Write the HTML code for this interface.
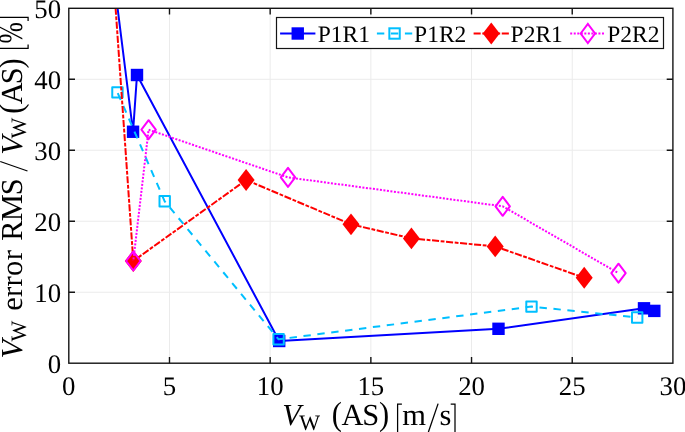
<!DOCTYPE html><html><head><meta charset="utf-8"><style>html,body{margin:0;padding:0;background:#fff;}svg{display:block;will-change:transform;}text{font-family:"Liberation Serif",serif;text-rendering:geometricPrecision;}</style></head><body>
<svg width="685" height="432" viewBox="0 0 685 432">
<rect width="685" height="432" fill="#fff"/>
<defs><clipPath id="c"><rect x="68.8" y="8.3" width="604.1" height="354.9"/></clipPath></defs>
<path d="M169.49 8.3V363.2 M270.17 8.3V363.2 M370.86 8.3V363.2 M471.54 8.3V363.2 M572.23 8.3V363.2 M68.8 292.22H672.9 M68.8 221.24H672.9 M68.8 150.26H672.9 M68.8 79.28H672.9" stroke="#ebebeb" stroke-width="1" fill="none"/>
<g clip-path="url(#c)" stroke-linejoin="round">
<polyline points="112.81,-30.00 133.05,131.75 137.00,75.00 279.20,341.00 498.50,328.80 644.00,308.30 654.30,310.90" fill="none" stroke="#0000ff" stroke-width="2"/>
<rect x="126.85" y="125.55" width="12.4" height="12.4" fill="#0000ff"/>
<rect x="130.80" y="68.80" width="12.4" height="12.4" fill="#0000ff"/>
<rect x="273.00" y="334.80" width="12.4" height="12.4" fill="#0000ff"/>
<rect x="492.30" y="322.60" width="12.4" height="12.4" fill="#0000ff"/>
<rect x="637.80" y="302.10" width="12.4" height="12.4" fill="#0000ff"/>
<rect x="648.10" y="304.70" width="12.4" height="12.4" fill="#0000ff"/>
<polyline points="117.45,92.35 164.70,201.30 278.60,339.30 531.50,306.60 637.20,317.50" fill="none" stroke="#00bfff" stroke-width="2" stroke-dasharray="7.4 6.6" stroke-dashoffset="13.26"/>
<rect x="112.25" y="87.15" width="10.4" height="10.4" fill="none" stroke="#00bfff" stroke-width="2"/>
<rect x="159.50" y="196.10" width="10.4" height="10.4" fill="none" stroke="#00bfff" stroke-width="2"/>
<rect x="273.40" y="334.10" width="10.4" height="10.4" fill="none" stroke="#00bfff" stroke-width="2"/>
<rect x="526.30" y="301.40" width="10.4" height="10.4" fill="none" stroke="#00bfff" stroke-width="2"/>
<rect x="632.00" y="312.30" width="10.4" height="10.4" fill="none" stroke="#00bfff" stroke-width="2"/>
<polyline points="112.92,-30.00 133.30,261.00" fill="none" stroke="#ff0000" stroke-width="2" stroke-dasharray="7.1 1.6 3.8 1.58" stroke-dashoffset="4.50"/>
<polyline points="133.30,261.00 246.10,180.00 351.00,224.30 411.40,238.40 495.20,246.40 584.20,277.75" fill="none" stroke="#ff0000" stroke-width="2" stroke-dasharray="7.1 1.6 3.8 1.58" stroke-dashoffset="2.45"/>
<polygon points="124.80,261.00 133.30,250.10 141.80,261.00 133.30,271.90" fill="#ff0000"/>
<polygon points="237.60,180.00 246.10,169.10 254.60,180.00 246.10,190.90" fill="#ff0000"/>
<polygon points="342.50,224.30 351.00,213.40 359.50,224.30 351.00,235.20" fill="#ff0000"/>
<polygon points="402.90,238.40 411.40,227.50 419.90,238.40 411.40,249.30" fill="#ff0000"/>
<polygon points="486.70,246.40 495.20,235.50 503.70,246.40 495.20,257.30" fill="#ff0000"/>
<polygon points="575.70,277.75 584.20,266.85 592.70,277.75 584.20,288.65" fill="#ff0000"/>
<polyline points="133.30,261.00 148.60,129.70 288.00,177.40 502.70,206.30 618.50,273.20" fill="none" stroke="#ff00ff" stroke-width="2" stroke-dasharray="2 1.53" stroke-dashoffset="1.93"/>
<polygon points="126.10,261.00 133.30,251.50 140.50,261.00 133.30,270.50" fill="none" stroke="#ff00ff" stroke-width="2" stroke-miterlimit="10"/>
<polygon points="141.40,129.70 148.60,120.20 155.80,129.70 148.60,139.20" fill="none" stroke="#ff00ff" stroke-width="2" stroke-miterlimit="10"/>
<polygon points="280.80,177.40 288.00,167.90 295.20,177.40 288.00,186.90" fill="none" stroke="#ff00ff" stroke-width="2" stroke-miterlimit="10"/>
<polygon points="495.50,206.30 502.70,196.80 509.90,206.30 502.70,215.80" fill="none" stroke="#ff00ff" stroke-width="2" stroke-miterlimit="10"/>
<polygon points="611.30,273.20 618.50,263.70 625.70,273.20 618.50,282.70" fill="none" stroke="#ff00ff" stroke-width="2" stroke-miterlimit="10"/>
</g>
<path d="M169.49 363.2v-6.2M169.49 8.3v6.2 M270.17 363.2v-6.2M270.17 8.3v6.2 M370.86 363.2v-6.2M370.86 8.3v6.2 M471.54 363.2v-6.2M471.54 8.3v6.2 M572.23 363.2v-6.2M572.23 8.3v6.2 M68.8 292.22h6.2M672.9 292.22h-6.2 M68.8 221.24h6.2M672.9 221.24h-6.2 M68.8 150.26h6.2M672.9 150.26h-6.2 M68.8 79.28h6.2M672.9 79.28h-6.2" stroke="#141414" stroke-width="1.4" fill="none"/>
<rect x="68.8" y="8.3" width="604.1" height="354.9" fill="none" stroke="#141414" stroke-width="1.4"/>
<text x="61.1" y="373.10" font-size="26.8" text-anchor="end">0</text>
<text x="61.1" y="302.12" font-size="26.8" text-anchor="end">10</text>
<text x="61.1" y="231.14" font-size="26.8" text-anchor="end">20</text>
<text x="61.1" y="160.16" font-size="26.8" text-anchor="end">30</text>
<text x="61.1" y="89.18" font-size="26.8" text-anchor="end">40</text>
<text x="61.1" y="18.20" font-size="26.8" text-anchor="end">50</text>
<text x="68.80" y="395.4" font-size="26.8" text-anchor="middle">0</text>
<text x="169.49" y="395.4" font-size="26.8" text-anchor="middle">5</text>
<text x="270.17" y="395.4" font-size="26.8" text-anchor="middle">10</text>
<text x="370.86" y="395.4" font-size="26.8" text-anchor="middle">15</text>
<text x="471.54" y="395.4" font-size="26.8" text-anchor="middle">20</text>
<text x="572.23" y="395.4" font-size="26.8" text-anchor="middle">25</text>
<text x="672.91" y="395.4" font-size="26.8" text-anchor="middle">30</text>
<rect x="276.5" y="17.5" width="387" height="31" fill="#fff" stroke="#141414" stroke-width="1.2"/>
<path d="M280.10 33.5H315.40" stroke="#0000ff" stroke-width="2"/>
<rect x="291.55" y="27.30" width="12.4" height="12.4" fill="#0000ff"/>
<text x="317.70" y="42.1" font-size="23.5">P1R1</text>
<path d="M376.90 33.5H412.20" stroke="#00bfff" stroke-width="2" stroke-dasharray="7.4 6.6"/>
<rect x="389.35" y="28.30" width="10.4" height="10.4" fill="none" stroke="#00bfff" stroke-width="2"/>
<text x="414.10" y="42.1" font-size="23.5">P1R2</text>
<path d="M473.60 33.5H508.90" stroke="#ff0000" stroke-width="2" stroke-dasharray="7.1 1.6 3.8 1.58"/>
<polygon points="482.75,33.50 491.25,22.60 499.75,33.50 491.25,44.40" fill="#ff0000"/>
<text x="510.60" y="42.1" font-size="23.5">P2R1</text>
<path d="M570.20 33.5H605.50" stroke="#ff00ff" stroke-width="2" stroke-dasharray="2 1.53"/>
<polygon points="580.65,33.50 587.85,24.00 595.05,33.50 587.85,43.00" fill="none" stroke="#ff00ff" stroke-width="2" stroke-miterlimit="10"/>
<text x="607.30" y="42.1" font-size="23.5">P2R2</text>
<text x="282.35" y="425.30" font-size="30.5" font-style="italic">V</text>
<text x="299.20" y="429.50" font-size="22">W</text>
<g transform="translate(0,425.10) scale(1,1.1) translate(0,-425.10)"><text x="331.85" y="425.10" font-size="30.5">(</text><text x="379.00" y="425.10" font-size="30.5">)</text></g>
<text x="341.45" y="425.10" font-size="30.5">A</text>
<text x="362.20" y="425.10" font-size="30.5">S</text>
<text x="402.15" y="425.10" font-size="30.5">m</text>
<text x="439.45" y="425.10" font-size="30.5">s</text>
<path d="M401.90 404.10H397.60V434.00H401.90 M450.70 404.10H455.00V434.00H450.70" stroke="#000" stroke-width="1.25" fill="none"/>
<path d="M438.1 403.6L427.9 433.5" stroke="#000" stroke-width="1.3" fill="none"/>
<g transform="translate(21.5,356.9) rotate(-90)"><text x="-1.55" y="0.20" font-size="30.5" font-style="italic">V</text><text x="15.30" y="4.00" font-size="22">W</text><text x="46.05" y="0.00" font-size="30.5" letter-spacing="0.35">error</text><text x="116.20" y="0.00" font-size="30.5" letter-spacing="-1.0">RMS</text><text x="202.25" y="0.20" font-size="30.5" font-style="italic">V</text><text x="218.40" y="4.00" font-size="22">W</text><g transform="scale(1,1.1)"><text x="243.05" y="0.00" font-size="30.5">(</text><text x="288.50" y="0.00" font-size="30.5">)</text></g><text x="252.65" y="0.00" font-size="30.5">A</text><text x="272.60" y="0.00" font-size="30.5">S</text><g transform="translate(313.46,0) scale(0.84,1.12)"><text x="0.00" y="0.00" font-size="30.5">%</text></g><path d="M312.40 -22.50H308.60V6.60H312.40 M335.80 -22.50H339.60V6.60H335.80" stroke="#000" stroke-width="1.25" fill="none"/><path d="M185.9 6.0L195.4 -21.3" stroke="#000" stroke-width="1.3" fill="none"/></g>
</svg></body></html>
